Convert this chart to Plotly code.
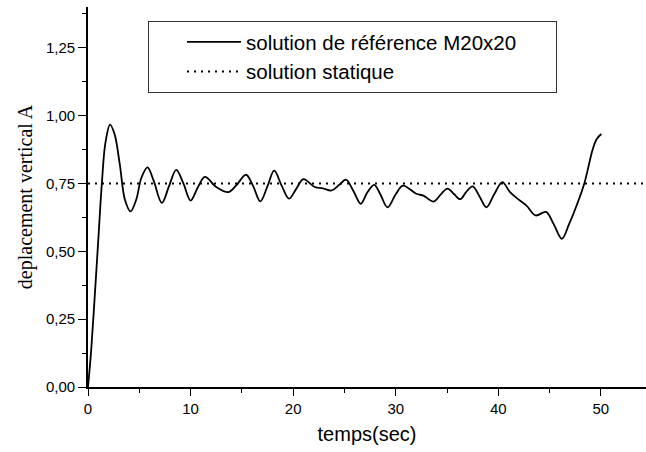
import plotly.graph_objects as go

# --- data ---
temps = [0, 0.3, 0.65, 1.0, 1.35, 1.7, 2.15, 2.6, 3.1, 3.6, 4.15, 4.7, 5.2, 5.8,
         6.4, 7.2, 7.9, 8.6, 9.3, 10.0, 10.7, 11.4, 12.5, 13.7, 14.5, 15.4, 16.1,
         16.8, 17.5, 18.15, 18.9, 19.6, 20.3, 21.0, 22.1, 22.9, 23.75, 24.5, 25.15,
         25.9, 26.6, 27.2, 27.9, 28.5, 29.2, 30.0, 30.7, 32.0, 32.7, 33.7, 34.4,
         35.05, 35.7, 36.3, 36.9, 37.5, 38.2, 38.85, 39.6, 40.4, 41.1, 41.8, 42.75,
         43.65, 44.65, 45.4, 46.2, 46.9, 47.6, 48.4, 49.2, 49.6, 50.05]
deplacement = [0, 0.13, 0.33, 0.54, 0.75, 0.9, 0.967, 0.93, 0.82, 0.69, 0.647, 0.69,
               0.77, 0.809, 0.76, 0.678, 0.74, 0.80, 0.75, 0.687, 0.735, 0.774, 0.737,
               0.718, 0.745, 0.782, 0.74, 0.684, 0.74, 0.797, 0.74, 0.694, 0.73, 0.766,
               0.737, 0.732, 0.724, 0.745, 0.764, 0.72, 0.675, 0.715, 0.745, 0.71, 0.662,
               0.71, 0.742, 0.712, 0.705, 0.683, 0.71, 0.731, 0.71, 0.692, 0.72, 0.739,
               0.70, 0.662, 0.71, 0.755, 0.72, 0.696, 0.668, 0.632, 0.645, 0.60, 0.546,
               0.60, 0.665, 0.752, 0.875, 0.914, 0.932]
statique_x = [0, 54.4]
statique_y = [0.75, 0.75]

x_ticks = [0, 10, 20, 30, 40, 50]
y_ticks = [0.0, 0.25, 0.5, 0.75, 1.0, 1.25]
y_ticktext = ["0,00", "0,25", "0,50", "0,75", "1,00", "1,25"]

SANS = "Arial, 'Liberation Sans', sans-serif"
SERIF = "'Times New Roman', 'Liberation Serif', serif"

NBSP = "\u00a0"
fig = go.Figure()
fig.add_trace(go.Scatter(
    x=temps, y=deplacement, mode="lines",
    name="solution de référence M20x20" + NBSP * 6,
    line=dict(color="black", width=1.8, shape="spline", smoothing=1.0),
))
fig.add_trace(go.Scatter(
    x=statique_x, y=statique_y, mode="lines", name="solution statique",
    line=dict(color="black", width=2, dash="2px,5px"),
))

fig.update_layout(
    width=646, height=452,
    margin=dict(l=88, r=0, t=7, b=65, autoexpand=False),
    paper_bgcolor="white", plot_bgcolor="white",
    font=dict(family=SANS, color="black"),
    showlegend=True,
    legend=dict(
        x=(148 - 88) / 558, y=(387 - 21) / 380, xanchor="left", yanchor="top",
        bgcolor="white", bordercolor="#333333", borderwidth=1,
        font=dict(family=SANS, size=20.5, color="black"),
        indentation=33, itemwidth=54,
        tracegroupgap=0,
    ),
)
fig.update_xaxes(
    range=[0, 54.4], showgrid=False, zeroline=False,
    showline=True, linecolor="black", linewidth=1.6,
    ticks="outside", ticklen=7, tickwidth=1.4, tickcolor="black",
    tickvals=x_ticks, tickfont=dict(family=SANS, size=15),
    minor=dict(ticks="outside", ticklen=4, tickwidth=1.4, tickcolor="black", dtick=5, showgrid=False),
    title=dict(text="temps(sec)", font=dict(family=SANS, size=20), standoff=11),
)
fig.update_yaxes(
    range=[0, 1.40], showgrid=False, zeroline=False,
    showline=True, linecolor="black", linewidth=1.6,
    ticks="outside", ticklen=8, tickwidth=1.4, tickcolor="black",
    tickvals=y_ticks, ticktext=y_ticktext, tickfont=dict(family=SANS, size=15),
    minor=dict(ticks="outside", ticklen=4, tickwidth=1.4, tickcolor="black", dtick=0.125, showgrid=False),
    title=dict(text="deplacement vertical A" + NBSP * 5, font=dict(family=SERIF, size=20), standoff=8),
)

fig.write_html("out.html", config={"displayModeBar": False},
               post_script="document.body.style.margin='0';")
